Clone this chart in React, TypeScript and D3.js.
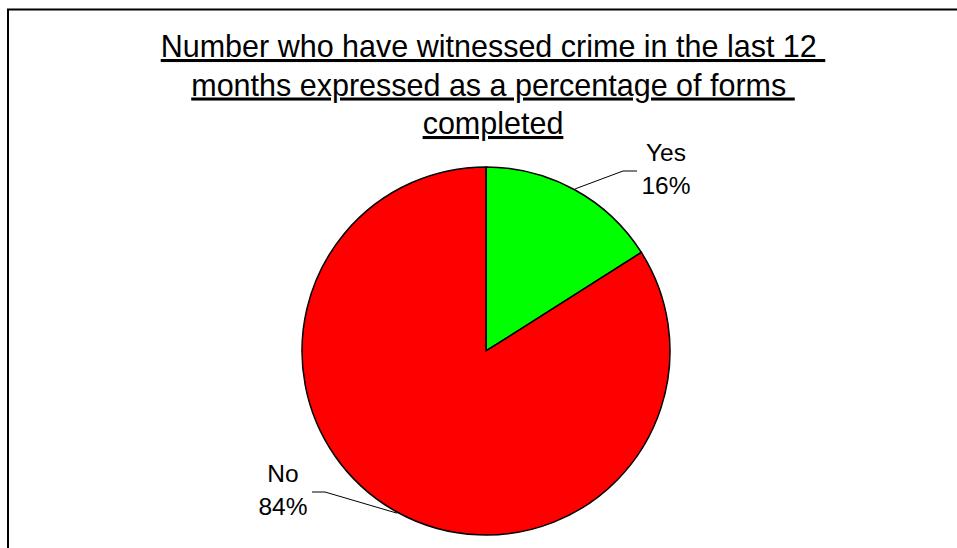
import React from "react";
import * as d3 from "d3";

const categories = ["Yes", "No"];
const values = [16, 84];
const colors = ["#00FF00", "#FF0000"];
const titleLines = [
  "Number who have witnessed crime in the last 12 ",
  "months expressed as a percentage of forms ",
  "completed",
];

const W = 957;
const H = 548;
const FONT = "'Liberation Sans', Arial, Helvetica, sans-serif";

export default function App() {
  const cx = 486;
  const cy = 351;
  const r = 184;
  const total = d3.sum(values);
  const pie = d3.pie<number>().sort(null).value((d) => d)(values);
  const arc = d3.arc<d3.PieArcDatum<number>>().innerRadius(0).outerRadius(r);

  // label placement (label block center offsets + leader geometry)
  const labelCfg = [
    { lx: 666, ly: 161, lineStart: 637, lineBend: 623 },
    { lx: 283, ly: 482, lineStart: 312, lineBend: 325 },
  ];

  return (
    <svg
      width={W}
      height={H}
      style={{ position: "absolute", left: 0, top: 0, background: "#fff" }}
    >
      <rect x={8} y={9.5} width={1000} height={600} fill="#fff" stroke="#000" strokeWidth={2} />
      {titleLines.map((t, i) => (
        <text
          key={i}
          x={493}
          y={57 + i * 38.5}
          textAnchor="middle"
          fontFamily={FONT}
          fontSize={30.5}
          fill="#000"
          style={{ whiteSpace: "pre", textDecoration: "underline" }}
        >
          {t}
        </text>
      ))}
      <g transform={`translate(${cx},${cy})`}>
        {pie.map((p, i) => (
          <path key={i} d={arc(p) || ""} fill={colors[i]} stroke="#000" strokeWidth={1.5} />
        ))}
      </g>
      {pie.map((p, i) => {
        const mid = (p.startAngle + p.endAngle) / 2;
        const ex = cx + (r + 1) * Math.sin(mid);
        const ey = cy - (r + 1) * Math.cos(mid);
        const c = labelCfg[i];
        const ly = c.ly + 10;
        const pct = Math.round((values[i] / total) * 100) + "%";
        return (
          <g key={i}>
            <polyline
              points={`${c.lineStart},${ly} ${c.lineBend},${ly} ${ex},${ey}`}
              fill="none"
              stroke="#000"
              strokeWidth={1}
            />
            <text x={c.lx} y={c.ly} textAnchor="middle" fontFamily={FONT} fontSize={24.5} fill="#000">
              {categories[i]}
            </text>
            <text x={c.lx} y={c.ly + 33} textAnchor="middle" fontFamily={FONT} fontSize={24.5} fill="#000">
              {pct}
            </text>
          </g>
        );
      })}
    </svg>
  );
}
